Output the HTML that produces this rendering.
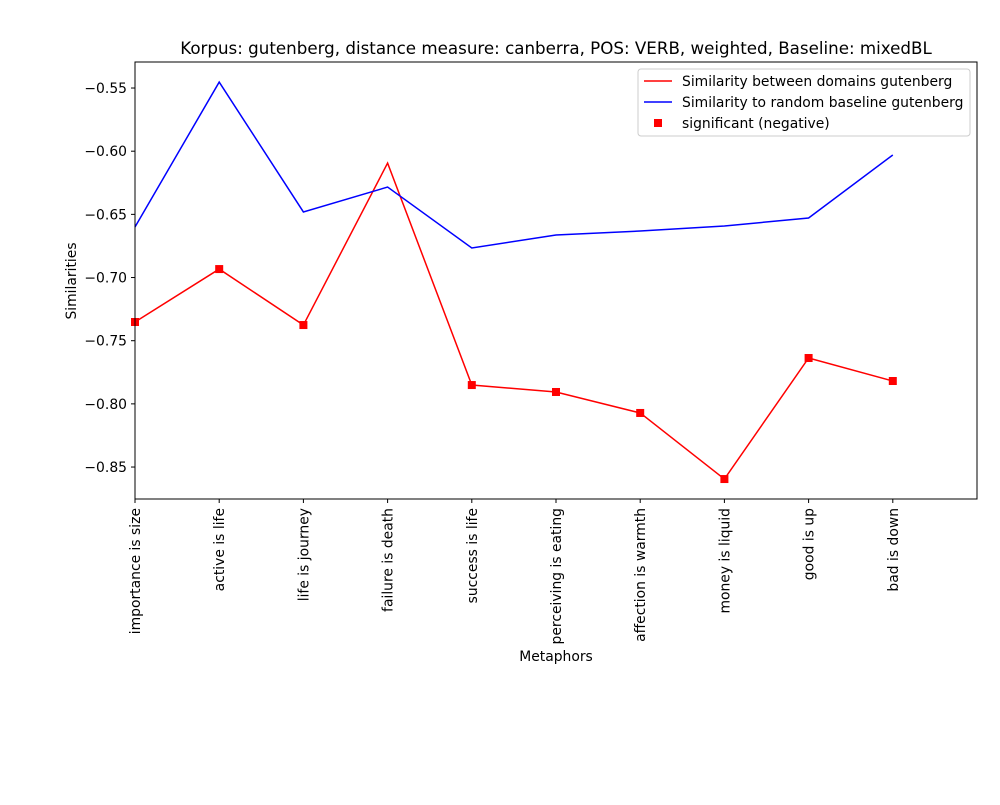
<!DOCTYPE html>
<html><head><meta charset="utf-8"><style>body{margin:0;background:#fff}svg text{font-family:"DejaVu Sans","Liberation Sans",sans-serif;fill:#000}</style></head>
<body>
<svg id="chart" width="1000" height="800" xmlns="http://www.w3.org/2000/svg">
<rect width="1000" height="800" fill="#fff"/>
<text x="556" y="54" font-size="16.7" text-anchor="middle">Korpus: gutenberg, distance measure: canberra, POS: VERB, weighted, Baseline: mixedBL</text>
<g id="plot"></g>
<rect x="135" y="62" width="842" height="437" fill="none" stroke="#000" stroke-width="1"/>
<text x="556" y="661" font-size="13.9" text-anchor="middle">Metaphors</text>
<text transform="translate(76,281) rotate(-90)" font-size="13.9" text-anchor="middle">Similarities</text>
<g>
<rect x="638" y="69" width="332" height="67" fill="#fff" fill-opacity="0.8" stroke="#ccc" rx="3"/>
<line x1="644" y1="81" x2="672" y2="81" stroke="red" stroke-width="1.5"/>
<text x="682" y="86" font-size="13.9">Similarity between domains gutenberg</text>
<line x1="644" y1="102" x2="672" y2="102" stroke="blue" stroke-width="1.5"/>
<text x="682" y="107" font-size="13.9">Similarity to random baseline gutenberg</text>
<rect x="654" y="119" width="8" height="8" fill="red"/>
<text x="682" y="128" font-size="13.9">significant (negative)</text>
</g>
</svg>
<script>
const categories=["importance is size","active is life","life is journey","failure is death","success is life","perceiving is eating","affection is warmth","money is liquid","good is up","bad is down"];
const domainValues=[-0.7352,-0.6933,-0.7376,-0.6094,-0.7851,-0.7906,-0.8072,-0.8595,-0.7637,-0.7819];
const baselineValues=[-0.660,-0.5453,-0.6481,-0.6284,-0.6766,-0.6663,-0.6632,-0.6592,-0.6529,-0.6030];
const significant=[true,true,true,false,true,true,true,true,true,true];
const yTicks=[-0.55,-0.60,-0.65,-0.70,-0.75,-0.80,-0.85];
const yTickLabels=["−0.55","−0.60","−0.65","−0.70","−0.75","−0.80","−0.85"];
const NS="http://www.w3.org/2000/svg";
const X0=135,X1=977,Y0=62,Y1=499,xMin=0,xMax=10,yMin=-0.8753,yMax=-0.5294;
const xs=i=>X0+(i-xMin)/(xMax-xMin)*(X1-X0);
const ys=v=>Y1-(v-yMin)/(yMax-yMin)*(Y1-Y0);
const g=document.getElementById('plot');
function mk(t,a){const e=document.createElementNS(NS,t);for(const k in a)e.setAttribute(k,a[k]);g.appendChild(e);return e;}
yTicks.forEach((v,i)=>{
 const l=mk('line',{x1:X0-4,x2:X0,y1:ys(v),y2:ys(v),stroke:'#000'});
 
 
 const t=mk('text',{x:X0-8,y:ys(v)+5,'font-size':13.9,'text-anchor':'end'});t.textContent=yTickLabels[i];
 
 
});
categories.forEach((c,i)=>{
 const x=xs(i);
 const l=mk('line',{x1:x,x2:x,y1:Y1,y2:Y1+4,stroke:'#000'});
 
 
 const t=mk('text',{transform:`translate(${x+5},${Y1+9}) rotate(-90)`,'font-size':13.9,'text-anchor':'end'});t.textContent=c;
 
 
});
const pl1=mk('polyline',{points:domainValues.map((v,i)=>xs(i)+','+ys(v)).join(' '),fill:'none',stroke:'red','stroke-width':1.5});


const pl2=mk('polyline',{points:baselineValues.map((v,i)=>xs(i)+','+ys(v)).join(' '),fill:'none',stroke:'blue','stroke-width':1.5});


domainValues.forEach((v,i)=>{if(!significant[i])return;
 const r=mk('rect',{x:xs(i)-4,y:ys(v)-4,width:8,height:8,fill:'red'});
 
 
});
</script>
</body></html>
